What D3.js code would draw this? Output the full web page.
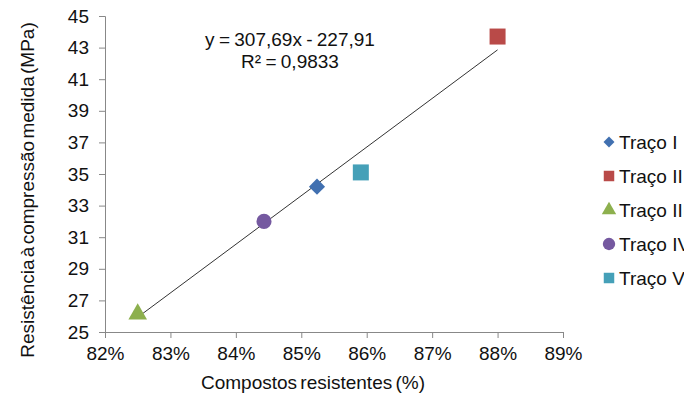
<!DOCTYPE html>
<html>
<head>
<meta charset="utf-8">
<script src="https://cdn.jsdelivr.net/npm/d3@7"></script>
<style>
  body { margin: 0; background: #fff; }
  svg { font-family: 'Liberation Sans', Arial, sans-serif; }
  .axis path, .axis line { stroke: #888; }
  .axis text { fill: #111; font-size: 19px; }
</style>
</head>
<body>
<svg id="chart" width="688" height="400"></svg>
<script>
var series = ['Traço I', 'Traço II', 'Traço III', 'Traço IV', 'Traço V'];
var xValues = [0.8524, 0.880, 0.825, 0.8443, 0.8591];
var yValues = [34.2, 43.7, 26.2, 32.0, 35.1];
var colors = ['#4170b0', '#b94a48', '#8db04e', '#7559a0', '#45a0b8'];
var shapes = ['diamond', 'square', 'triangle', 'circle', 'square'];
var xTicks = [0.82, 0.83, 0.84, 0.85, 0.86, 0.87, 0.88, 0.89];
var yTicks = [25, 27, 29, 31, 33, 35, 37, 39, 41, 43, 45];
var slope = 307.69, intercept = -227.91;
var equation = ['y = 307,69x - 227,91', 'R² = 0,9833'];

function drawChart() {

  var svg = d3.select('#chart'),
      margin = { top: 16, left: 105 },
      width = 458,
      height = 316,
      g = svg.append('g').attr('transform', 'translate(' + margin.left + ',' + margin.top + ')');

  var x = d3.scaleLinear().domain([0.82, 0.89]).range([0, width]);
  var y = d3.scaleLinear().domain([25, 45]).range([height, 0]);

  // diamond is drawn as a square turned 45 degrees, like the spreadsheet marker
  var symbolOf = {
    diamond: d3.symbolSquare,
    square: d3.symbolSquare,
    triangle: d3.symbolTriangle,
    circle: d3.symbolCircle
  };

  g.append('g')
      .attr('class', 'axis')
      .attr('transform', 'translate(0,' + height + ')')
      .call(d3.axisBottom(x).tickValues(xTicks).tickSize(6).tickPadding(9)
        .tickFormat(function(d) { return Math.round(d * 100) + '%'; }));

  g.append('g')
      .attr('class', 'axis')
      .call(d3.axisLeft(y).tickValues(yTicks).tickSize(6).tickPadding(10));

  // trend line
  var xs = [d3.min(xValues), d3.max(xValues)];
  g.append('line')
      .attr('x1', x(xs[0])).attr('y1', y(slope * xs[0] + intercept))
      .attr('x2', x(xs[1])).attr('y2', y(slope * xs[1] + intercept))
      .attr('stroke', '#333')
      .attr('stroke-width', 1);

  var sizes = { diamond: 130, square: 256, triangle: 150, circle: 180 };

  g.selectAll('.pt')
    .data(series)
    .enter().append('path')
      .attr('class', 'pt')
      .attr('transform', function(d, i) {
        var dy = shapes[i] === 'triangle' ? 1 : 0;
        var rot = shapes[i] === 'diamond' ? ' rotate(45)' : '';
        return 'translate(' + x(xValues[i]) + ',' + (y(yValues[i]) + dy) + ')' + rot;
      })
      .attr('d', function(d, i) {
        return d3.symbol().type(symbolOf[shapes[i]]).size(sizes[shapes[i]])();
      })
      .attr('fill', function(d, i) { return colors[i]; });

  var eq = svg.append('text')
      .attr('x', 290)
      .attr('y', 46)
      .attr('text-anchor', 'middle')
      .attr('font-size', 19)
      .attr('word-spacing', -1)
      .attr('fill', '#111');
  eq.selectAll('tspan')
    .data(equation)
    .enter().append('tspan')
      .attr('x', 290)
      .attr('dy', function(d, i) { return i === 0 ? 0 : 22; })
      .text(function(d) { return d; });

  svg.append('text')
      .attr('x', 313)
      .attr('y', 389)
      .attr('text-anchor', 'middle')
      .attr('font-size', 19)
      .attr('word-spacing', -2)
      .attr('fill', '#111')
      .text('Compostos resistentes (%)');

  svg.append('text')
      .attr('transform', 'translate(34,190) rotate(-90)')
      .attr('text-anchor', 'middle')
      .attr('font-size', 19)
      .attr('word-spacing', -3)
      .attr('fill', '#111')
      .text('Resistência à compressão medida (MPa)');

  // legend box is narrower than its labels, so they are cut at the right
  svg.append('clipPath')
      .attr('id', 'legend-clip')
    .append('rect')
      .attr('x', 595).attr('y', 120)
      .attr('width', 89).attr('height', 180);

  var legend = svg.append('g')
      .attr('clip-path', 'url(#legend-clip)')
      .selectAll('g')
      .data(series)
      .enter().append('g')
        .attr('transform', function(d, i) { return 'translate(609,' + (142 + i * 34) + ')'; });

  var legendSizes = { diamond: 60, square: 110, triangle: 90, circle: 120 };

  legend.append('path')
      .attr('transform', function(d, i) { return shapes[i] === 'diamond' ? 'rotate(45)' : null; })
      .attr('d', function(d, i) {
        return d3.symbol().type(symbolOf[shapes[i]]).size(legendSizes[shapes[i]])();
      })
      .attr('fill', function(d, i) { return colors[i]; });

  legend.append('text')
      .attr('x', 10)
      .attr('y', 7)
      .attr('font-size', 19)
      .attr('fill', '#111')
      .text(function(d) { return d; });
}

drawChart();
</script>
</body>
</html>
